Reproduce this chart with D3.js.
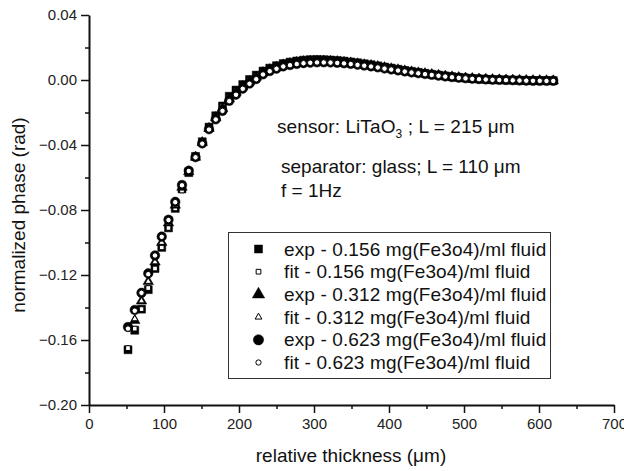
<!DOCTYPE html>
<html>
<head>
<meta charset="utf-8">
<script src="https://cdn.jsdelivr.net/npm/d3@7"></script>
<style>
  html, body { margin: 0; padding: 0; background: #fff; }
  svg { display: block; font-family: "Liberation Sans", Arial, sans-serif; }
</style>
</head>
<body>
<svg id="chart" width="624" height="471"></svg>
<script>
// ---------- data ----------
const thickness = [52, 61, 70, 79, 88, 97, 106, 115, 124, 133, 142, 151, 160, 169, 178, 187,
  196, 205, 214, 223, 232, 241, 250, 259, 268, 277, 286, 295, 304, 313, 322, 331,
  340, 349, 358, 367, 376, 385, 394, 403, 412, 421, 430, 439, 448, 457, 466, 475,
  484, 493, 502, 511, 520, 529, 538, 547, 556, 565, 574, 583, 592, 601, 610, 619];

const expSquare = [-0.166, -0.154, -0.141, -0.129, -0.116, -0.103, -0.091, -0.079, -0.067, -0.057, -0.047, -0.038, -0.029, -0.022, -0.016, -0.010,
  -0.0062, -0.0028, 0.0003, 0.0030, 0.0055, 0.0073, 0.0088, 0.0101, 0.0110, 0.0117, 0.0122, 0.0125, 0.0126, 0.0125, 0.0123, 0.0120,
  0.0116, 0.0111, 0.0106, 0.0100, 0.0094, 0.0087, 0.0080, 0.0073, 0.0066, 0.0059, 0.0053, 0.0047, 0.0041, 0.0035, 0.0030, 0.0025,
  0.0020, 0.0016, 0.0012, 0.0009, 0.0006, 0.0004, 0.0002, 0.0001, 0.0000, -0.0001, -0.0002, -0.0003, -0.0003, -0.0004, -0.0004, -0.0004];

const fitSquare = [-0.165, -0.153, -0.141, -0.128, -0.116, -0.103, -0.091, -0.079, -0.068, -0.057, -0.047, -0.038, -0.030, -0.022, -0.016, -0.0105,
  -0.0064, -0.0030, 0.0001, 0.0028, 0.0053, 0.0071, 0.0087, 0.0099, 0.0109, 0.0116, 0.0121, 0.0124, 0.0125, 0.0124, 0.0122, 0.0119,
  0.0115, 0.0110, 0.0105, 0.0099, 0.0093, 0.0086, 0.0079, 0.0072, 0.0065, 0.0059, 0.0052, 0.0046, 0.0040, 0.0035, 0.0029, 0.0024,
  0.0020, 0.0016, 0.0012, 0.0009, 0.0006, 0.0004, 0.0002, 0.0001, 0.0000, -0.0001, -0.0002, -0.0003, -0.0003, -0.0004, -0.0004, -0.0004];

const expTriangle = [null, -0.148, -0.136, -0.124, -0.112, -0.100, -0.088, -0.077, -0.066, -0.0565, -0.0475, -0.0385, -0.0298, -0.0232, -0.0175, -0.0115,
  -0.0075, -0.0040, -0.0010, 0.0018, 0.0045, 0.0064, 0.0079, 0.0093, 0.0101, 0.0108, 0.0113, 0.0116, 0.0117, 0.0117, 0.0115, 0.0113,
  0.0109, 0.0105, 0.0100, 0.0094, 0.0089, 0.0082, 0.0076, 0.0069, 0.0063, 0.0056, 0.0050, 0.0044, 0.0039, 0.0034, 0.0029, 0.0024,
  0.0019, 0.0015, 0.0012, 0.0009, 0.0006, 0.0004, 0.0002, 0.0001, 0.0000, -0.0001, -0.0002, -0.0003, -0.0004, -0.0004, -0.0005, -0.0005];

const fitTriangle = [null, -0.147, -0.136, -0.124, -0.112, -0.100, -0.088, -0.077, -0.066, -0.0560, -0.0470, -0.0385, -0.0300, -0.0235, -0.0178, -0.0118,
  -0.0078, -0.0042, -0.0012, 0.0016, 0.0043, 0.0062, 0.0077, 0.0091, 0.0100, 0.0107, 0.0112, 0.0115, 0.0116, 0.0116, 0.0114, 0.0112,
  0.0108, 0.0104, 0.0099, 0.0093, 0.0088, 0.0081, 0.0075, 0.0068, 0.0062, 0.0056, 0.0050, 0.0044, 0.0039, 0.0034, 0.0029, 0.0024,
  0.0019, 0.0015, 0.0012, 0.0009, 0.0006, 0.0004, 0.0002, 0.0001, 0.0000, -0.0001, -0.0002, -0.0003, -0.0004, -0.0004, -0.0005, -0.0005];

const expCircle = [-0.152, -0.1415, -0.131, -0.119, -0.108, -0.0964, -0.086, -0.075, -0.0646, -0.0558, -0.0475, -0.039, -0.0303, -0.0242, -0.019, -0.0128,
  -0.009, -0.0053, -0.0022, 0.0006, 0.0035, 0.0055, 0.0070, 0.0084, 0.0092, 0.0099, 0.0104, 0.0107, 0.0109, 0.0109, 0.0108, 0.0106,
  0.0103, 0.0099, 0.0094, 0.0089, 0.0084, 0.0078, 0.0071, 0.0065, 0.0059, 0.0053, 0.0047, 0.0042, 0.0037, 0.0032, 0.0027, 0.0022,
  0.0018, 0.0014, 0.0011, 0.0008, 0.0006, 0.0004, 0.0002, 0.0001, 0.0000, -0.0001, -0.0003, -0.0004, -0.0005, -0.0005, -0.0005, -0.0005];

const fitCircle = [-0.153, -0.1420, -0.131, -0.1195, -0.108, -0.0965, -0.0862, -0.0752, -0.0648, -0.0560, -0.0476, -0.0392, -0.0305, -0.0243, -0.0190, -0.0130,
  -0.0091, -0.0054, -0.0023, 0.0005, 0.0034, 0.0054, 0.0069, 0.0083, 0.0091, 0.0098, 0.0103, 0.0106, 0.0108, 0.0108, 0.0107, 0.0105,
  0.0102, 0.0098, 0.0093, 0.0088, 0.0083, 0.0077, 0.0070, 0.0064, 0.0058, 0.0052, 0.0046, 0.0041, 0.0036, 0.0031, 0.0026, 0.0021,
  0.0017, 0.0013, 0.0010, 0.0007, 0.0005, 0.0003, 0.0001, 0.0000, -0.0001, -0.0002, -0.0003, -0.0004, -0.0005, -0.0005, -0.0006, -0.0006];

const legendLabels = [
  "exp - 0.156 mg(Fe3o4)/ml fluid",
  "fit - 0.156 mg(Fe3o4)/ml fluid",
  "exp - 0.312 mg(Fe3o4)/ml fluid",
  "fit - 0.312 mg(Fe3o4)/ml fluid",
  "exp - 0.623 mg(Fe3o4)/ml fluid",
  "fit - 0.623 mg(Fe3o4)/ml fluid"
];

const xMajorTicks = [0, 100, 200, 300, 400, 500, 600, 700];
const xMinorTicks = [50, 150, 250, 350, 450, 550, 650];
const yMajorTicks = [0.04, 0.00, -0.04, -0.08, -0.12, -0.16, -0.20];
const yMinorTicks = [0.02, -0.02, -0.06, -0.10, -0.14, -0.18];

const xTitle = "relative thickness (\u03bcm)";
const yTitle = "normalized phase (rad)";

// ---------- layout ----------
const svg = d3.select("#chart");
const x = d3.scaleLinear().domain([0, 700]).range([89, 614]);
const y = d3.scaleLinear().domain([-0.20, 0.04]).range([405, 15]);

const series = [
  { values: expSquare, type: d3.symbolSquare, size: 64, filled: true },
  { values: fitSquare, type: d3.symbolSquare, size: 22, filled: false },
  { values: expTriangle, type: d3.symbolTriangle, size: 48, filled: true },
  { values: fitTriangle, type: d3.symbolTriangle, size: 18, filled: false },
  { values: expCircle, type: d3.symbolCircle, size: 72, filled: true },
  { values: fitCircle, type: d3.symbolCircle, size: 24, filled: false }
];

// axes
const tickColor = "#111";
svg.append("g").attr("transform", `translate(0,${y(-0.20)})`)
  .call(d3.axisBottom(x).tickValues(xMajorTicks).tickFormat(d3.format("d"))
    .tickSize(8).tickSizeOuter(0).tickPadding(5));
svg.append("g").attr("transform", `translate(0,${y(-0.20)})`)
  .call(d3.axisBottom(x).tickValues(xMinorTicks).tickFormat("").tickSize(4).tickSizeOuter(0))
  .call(g => g.select(".domain").remove());

svg.append("g").attr("transform", `translate(${x(0)},0)`)
  .call(d3.axisLeft(y).tickValues(yMajorTicks).tickFormat(d3.format(".2f"))
    .tickSize(8).tickSizeOuter(0).tickPadding(4));
svg.append("g").attr("transform", `translate(${x(0)},0)`)
  .call(d3.axisLeft(y).tickValues(yMinorTicks).tickFormat("").tickSize(4).tickSizeOuter(0))
  .call(g => g.select(".domain").remove());

svg.selectAll(".domain").attr("stroke", tickColor).attr("stroke-width", 2);
svg.selectAll(".tick line").attr("stroke", tickColor).attr("stroke-width", 1.5);
svg.selectAll(".tick text").attr("fill", "#222").attr("font-size", 15)
  .attr("font-family", "'Liberation Sans', Arial, sans-serif");

// axis titles
svg.append("text").attr("x", 351).attr("y", 462).attr("text-anchor", "middle")
  .attr("font-size", 19).attr("fill", "#111").text(xTitle);
svg.append("text").attr("transform", "translate(25,215) rotate(-90)")
  .attr("text-anchor", "middle").attr("font-size", 19).attr("fill", "#111").text(yTitle);

// data points
series.forEach(s => {
  const pts = thickness.map((t, i) => [t, s.values[i]]).filter(d => d[1] !== null);
  svg.append("g").selectAll("path").data(pts).join("path")
    .attr("transform", d => `translate(${x(d[0])},${y(d[1])})`)
    .attr("d", d3.symbol().type(s.type).size(s.size))
    .attr("fill", s.filled ? "#000" : "#fff")
    .attr("stroke", "#000")
    .attr("stroke-width", s.filled ? 0.5 : 1);
});

// annotations
const ann = svg.append("g").attr("font-size", 19).attr("fill", "#111");
const t1 = ann.append("text").attr("x", 277).attr("y", 133).attr("letter-spacing", 0.1);
t1.append("tspan").text("sensor: LiTaO");
t1.append("tspan").attr("font-size", 12).attr("dy", 5).text("3");
t1.append("tspan").attr("dy", -5).text(" ; L = 215 \u03bcm");
ann.append("text").attr("x", 281).attr("y", 173).text("separator: glass; L = 110 \u03bcm");
ann.append("text").attr("x", 281).attr("y", 197).text("f = 1Hz");

// legend
const leg = svg.append("g");
leg.append("rect").attr("x", 228.5).attr("y", 232.5).attr("width", 322).attr("height", 146)
  .attr("fill", "#fff").attr("stroke", "#333").attr("stroke-width", 1);
const legendSizes = [64, 22, 66, 20, 84, 22];
legendLabels.forEach((lab, i) => {
  const cy = 249 + i * 22.7;
  const s = series[i];
  leg.append("path").attr("transform", `translate(258.5,${cy})`)
    .attr("d", d3.symbol().type(s.type).size(legendSizes[i]))
    .attr("fill", s.filled ? "#000" : "#fff").attr("stroke", "#000")
    .attr("stroke-width", s.filled ? 0.5 : 1);
  leg.append("text").attr("x", 284).attr("y", cy + 6.5).attr("font-size", 19)
    .attr("letter-spacing", 0.12).attr("fill", "#111").text(lab);
});
</script>
</body>
</html>
